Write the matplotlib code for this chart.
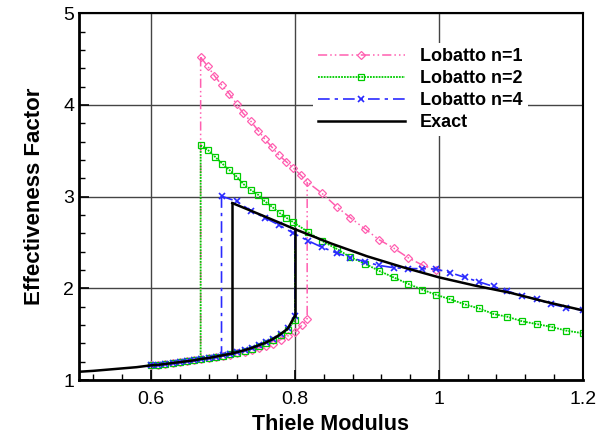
import numpy as np
import matplotlib
matplotlib.use("Agg")
import matplotlib.pyplot as plt
import matplotlib.ticker as ticker

plt.rcParams['font.family'] = ['Liberation Sans', 'DejaVu Sans']

# lower (small effectiveness) branch, shared by all curves up to the turning point
low_x = [0.60, 0.61, 0.62, 0.63, 0.64, 0.65, 0.66, 0.67, 0.68, 0.69, 0.70,
         0.71, 0.72, 0.73, 0.74, 0.75, 0.76, 0.77, 0.78, 0.79, 0.80]
low_exact = [1.16, 1.165, 1.175, 1.185, 1.195, 1.205, 1.215, 1.23, 1.24, 1.255, 1.27,
             1.285, 1.305, 1.325, 1.35, 1.38, 1.41, 1.45, 1.50, 1.56, 1.70]

# Exact solution
ex_low_x = [0.50, 0.52, 0.55, 0.58] + low_x
ex_low_y = [1.09, 1.10, 1.12, 1.14] + low_exact
ex_up_x = [0.713, 0.75, 0.80, 0.85, 0.90, 0.95, 1.00, 1.05, 1.10, 1.15, 1.20]
ex_up_y = [2.93, 2.81, 2.645, 2.49, 2.35, 2.23, 2.12, 2.03, 1.95, 1.85, 1.76]
ex_jump_x = 0.713
ex_jump_low = 1.30

# Lobatto n=1
n1_low_x = low_x + [0.81, 0.817]
n1_low_y = [1.16, 1.165, 1.175, 1.185, 1.195, 1.205, 1.215, 1.23, 1.24, 1.25, 1.26,
            1.275, 1.29, 1.31, 1.33, 1.35, 1.37, 1.39, 1.44, 1.48, 1.52, 1.60, 1.67]
n1_up_x = [0.669, 0.679, 0.688, 0.698, 0.709, 0.719, 0.728, 0.739, 0.749, 0.758,
           0.768, 0.778, 0.788, 0.798, 0.808, 0.817, 0.837, 0.858, 0.877, 0.897,
           0.917, 0.937, 0.957, 0.978, 0.996]
n1_up_y = [4.52, 4.42, 4.32, 4.22, 4.12, 4.01, 3.91, 3.82, 3.72, 3.63,
           3.54, 3.45, 3.38, 3.31, 3.235, 3.16, 3.04, 2.89, 2.77, 2.65,
           2.53, 2.44, 2.335, 2.25, 2.20]
n1_jump_low = 1.235

# Lobatto n=2
n2_low_x = low_x
n2_low_y = [1.16, 1.165, 1.175, 1.185, 1.195, 1.205, 1.215, 1.225, 1.24, 1.25, 1.265,
            1.28, 1.30, 1.32, 1.34, 1.37, 1.40, 1.44, 1.49, 1.55, 1.65]
n2_up_x = [0.669, 0.679, 0.689, 0.699, 0.709, 0.719, 0.728, 0.739, 0.749, 0.758,
           0.768, 0.779, 0.788, 0.798, 0.818, 0.837, 0.858, 0.877, 0.897, 0.917,
           0.937, 0.957, 0.977, 0.996, 1.016, 1.036, 1.056, 1.076, 1.095, 1.116,
           1.136, 1.156, 1.176, 1.20]
n2_up_y = [3.56, 3.51, 3.435, 3.36, 3.29, 3.22, 3.14, 3.07, 3.02, 2.95,
           2.89, 2.82, 2.77, 2.72, 2.615, 2.52, 2.43, 2.34, 2.27, 2.19,
           2.12, 2.05, 1.985, 1.93, 1.88, 1.825, 1.78, 1.72, 1.69, 1.64,
           1.61, 1.58, 1.54, 1.51]
n2_jump_low = 1.225

# Lobatto n=4
n4_low_x = low_x
n4_low_y = [1.16, 1.165, 1.175, 1.185, 1.195, 1.205, 1.215, 1.23, 1.24, 1.255, 1.27,
            1.285, 1.305, 1.325, 1.35, 1.38, 1.41, 1.45, 1.50, 1.57, 1.70]
n4_up_x = [0.698, 0.719, 0.739, 0.758, 0.778, 0.798, 0.818, 0.837, 0.858, 0.877,
           0.897, 0.917, 0.937, 0.957, 0.977, 0.996, 1.016, 1.036, 1.056, 1.076,
           1.095, 1.116, 1.136, 1.156, 1.176, 1.20]
n4_up_y = [3.005, 2.95, 2.845, 2.77, 2.69, 2.60, 2.52, 2.45, 2.385, 2.335,
           2.29, 2.25, 2.225, 2.215, 2.215, 2.21, 2.17, 2.12, 2.07, 2.02,
           1.97, 1.92, 1.88, 1.83, 1.79, 1.76]
n4_jump_low = 1.27

fig = plt.figure(figsize=(6.1, 4.34), dpi=100)
ax = fig.add_axes([0.1295, 0.1244, 0.826, 0.845])


def branch_path(lx, ly, ux, uy, jump_low):
    # lower branch -> jump up at its end -> upper branch (NaN break) + jump down at start of upper
    jx = ux[0]
    xs = list(lx) + [lx[-1]] + [np.nan] + list(ux) + [np.nan, jx, jx]
    i_hi = int(np.argmin(np.abs(np.array(ux) - lx[-1])))
    ys = list(ly) + [uy[i_hi]] + [np.nan] + list(uy) + [np.nan, uy[0], jump_low]
    return xs, ys


pink = '#ff5fb0'
green = '#00cc00'
blue = '#2a2aff'

# Lobatto n=1
xs, ys = branch_path(n1_low_x, n1_low_y, n1_up_x, n1_up_y, n1_jump_low)
ax.plot(xs, ys, color=pink, lw=1.1, dashes=[6, 2, 1, 2, 1, 2])
ax.plot(n1_low_x, n1_low_y, ls='none', marker='D', ms=3.8, mfc='none', mec=pink, mew=0.9)
ax.plot(n1_up_x, n1_up_y, ls='none', marker='D', ms=3.8, mfc='none', mec=pink, mew=0.9)
ax.plot([], [], color=pink, lw=1.1, dashes=[6, 2, 1, 2, 1, 2], marker='D', ms=3.8,
        mfc='none', mec=pink, mew=0.9, label='Lobatto n=1')

# Lobatto n=2
xs, ys = branch_path(n2_low_x, n2_low_y, n2_up_x, n2_up_y, n2_jump_low)
ax.plot(xs, ys, color=green, lw=1.3, ls=(0, (1, 0.6)))
ax.plot(n2_low_x, n2_low_y, ls='none', marker='s', ms=3.8, mfc='none', mec=green, mew=0.9)
ax.plot(n2_up_x, n2_up_y, ls='none', marker='s', ms=3.8, mfc='none', mec=green, mew=0.9)
ax.plot([], [], color=green, lw=1.3, ls=(0, (1, 0.6)), marker='s', ms=3.8,
        mfc='none', mec=green, mew=0.9, label='Lobatto n=2')

# Lobatto n=4
xs, ys = branch_path(n4_low_x, n4_low_y, n4_up_x, n4_up_y, n4_jump_low)
ax.plot(xs, ys, color=blue, lw=1.2, dashes=[7, 3, 2, 3])
ax.plot(n4_low_x, n4_low_y, ls='none', marker='x', ms=4, mec=blue, mew=1.2)
ax.plot(n4_up_x, n4_up_y, ls='none', marker='x', ms=4, mec=blue, mew=1.2)
ax.plot([], [], color=blue, lw=1.2, dashes=[7, 3, 2, 3], marker='x', ms=4,
        mec=blue, mew=1.2, label='Lobatto n=4')

# Exact
ax.plot(ex_low_x, ex_low_y, color='black', lw=1.8, label='Exact')
i_hi = int(np.argmin(np.abs(np.array(ex_up_x) - ex_low_x[-1])))
ax.plot([ex_low_x[-1], ex_low_x[-1]], [ex_low_y[-1], ex_up_y[i_hi]], color='black', lw=1.8)
ax.plot(ex_up_x, ex_up_y, color='black', lw=1.8)
ax.plot([ex_jump_x, ex_jump_x], [ex_jump_low, ex_up_y[0]], color='black', lw=1.8)

ax.set_xlim(0.5, 1.2)
ax.set_ylim(1, 5)
ax.xaxis.set_major_locator(ticker.FixedLocator([0.6, 0.8, 1.0, 1.2]))
ax.xaxis.set_minor_locator(ticker.FixedLocator(np.arange(0.52, 1.2, 0.04)))
ax.xaxis.set_major_formatter(ticker.FuncFormatter(lambda v, p: '%g' % v))
ax.yaxis.set_major_locator(ticker.MultipleLocator(1))
ax.yaxis.set_minor_locator(ticker.MultipleLocator(0.2))
ax.tick_params(which='both', direction='in', top=False, right=False, labelsize=14)
ax.tick_params(which='major', length=7, width=1.2)
ax.tick_params(which='minor', length=4, width=1)
ax.tick_params(axis='x', pad=8)
ax.grid(True, which='major', color='#444444', lw=1.0)
ax.set_axisbelow(True)
for side in ['left', 'bottom']:
    ax.spines[side].set_linewidth(2)
for side in ['top', 'right']:
    ax.spines[side].set_linewidth(1.5)

ax.set_xlabel('Thiele Modulus', fontsize=15.5, fontweight='bold', labelpad=4)
ax.set_ylabel('Effectiveness Factor', fontsize=16, fontweight='bold', labelpad=13)

leg = ax.legend(loc='upper left', bbox_to_anchor=(0.446, 0.944), frameon=True,
                facecolor='white', edgecolor='none', framealpha=1.0, fancybox=False,
                prop={'weight': 'bold', 'size': 13}, handlelength=4.8,
                handletextpad=0.85, labelspacing=0.27, borderpad=0.3)

fig.savefig('out.png', dpi=100)
